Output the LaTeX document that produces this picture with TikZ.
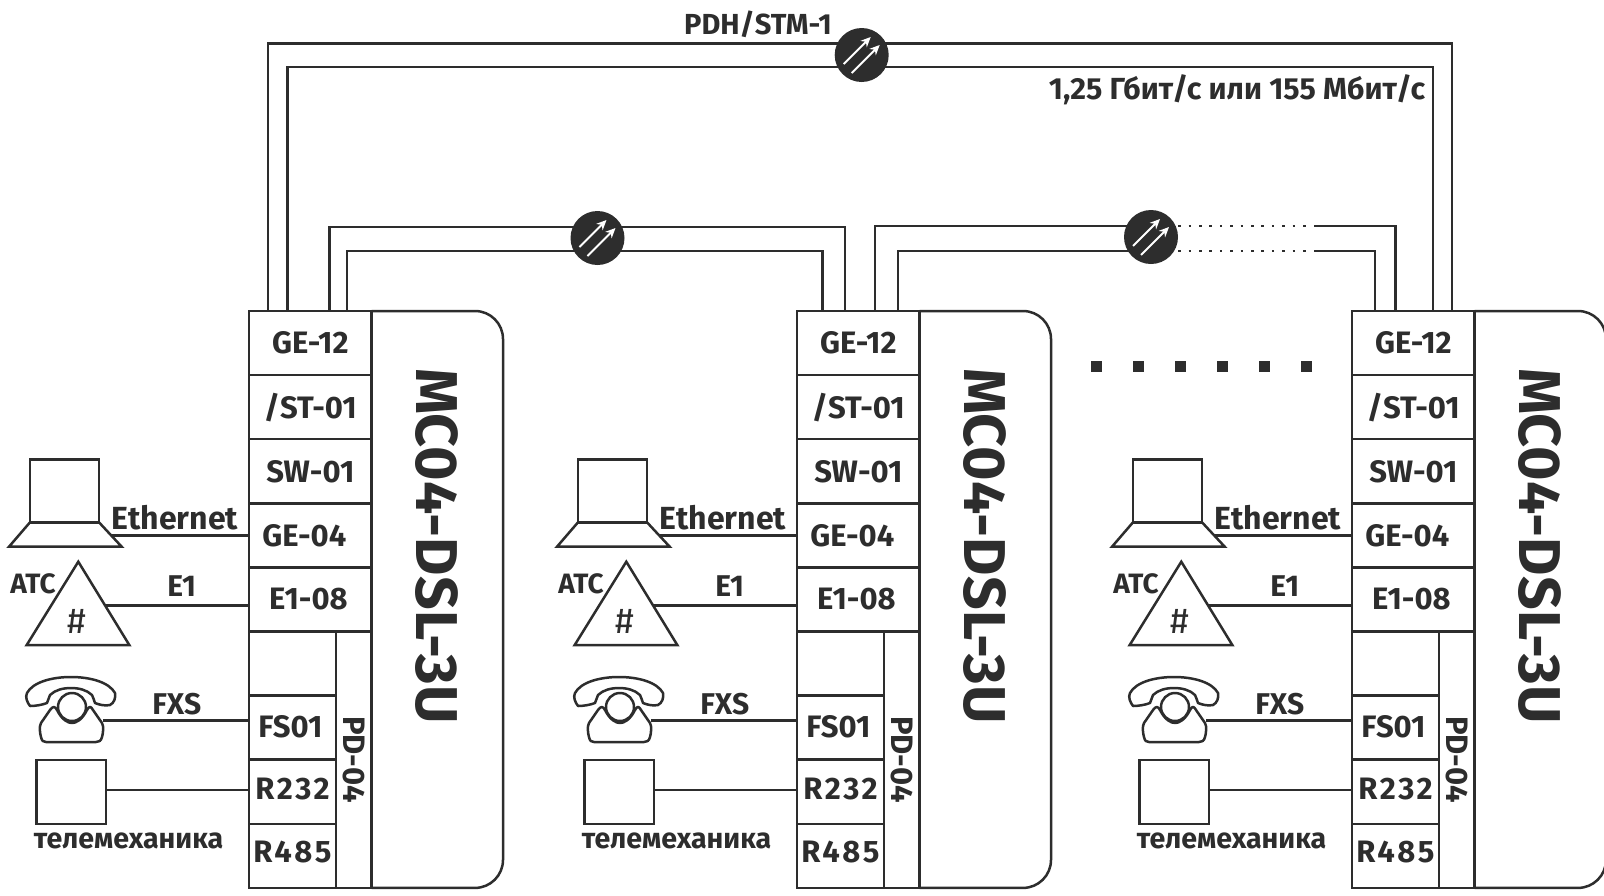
\documentclass[tikz,border=0pt]{standalone}
\usepackage{fontspec}
\setmainfont{Fira Sans}
\usepackage{xcolor}
\usetikzlibrary{
  arrows.meta,
  positioning,
  backgrounds,
  calc
}
\definecolor{inkDark}{HTML}{2D2D2D}

\begin{document}
\begin{tikzpicture}[
		x=1pt, y=-1pt,
		%--- Node Styles ---------------------------------------------------
		cellbox/.style={
			rectangle,
			draw=inkDark,
			line width=2.5pt,
			inner sep=0pt,
			outer sep=0pt,
			minimum width=122.7pt,
			minimum height=64.1pt,
			align=center,
			text=inkDark,
			font=\bfseries\fontsize{31}{36}\selectfont
		},
		narrowbox/.style={
			cellbox,
			minimum width=87pt,
			anchor=north west
		},
		devbox/.style={
			rectangle,
			draw=inkDark,
			line width=2.5pt,
			inner sep=0pt,
			outer sep=0pt
		},
		devlabel/.style={
			inner sep=0pt,
			text=inkDark,
			font=\bfseries\fontsize{30}{36}\selectfont
		},
		hub/.style={
			circle,
			fill=inkDark,
			inner sep=0pt,
			minimum size=54pt
		},
		dotmark/.style={
			rectangle,
			fill=inkDark,
			inner sep=0pt,
			minimum size=11pt
		},
		%--- Arrow Styles --------------------------------------------------
		wire/.style={
			line width=2.5pt,
			draw=inkDark
		},
		dottedwire/.style={
			line width=2.5pt,
			draw=inkDark,
			dash pattern=on 2.5pt off 7.9pt
		},
		hubarrow/.style={
			-{Stealth[length=10pt,width=9pt]},
			line width=2pt,
			draw=white
		}
		]
		
		\useasboundingbox (0,0) rectangle (1604,895);
		
		%--- Shelves and Attached Devices --------------------------------------
		
		\foreach \blk/\dx in {a/0, b/548, c/1103} {
			\begin{scope}[shift={(\dx,0)}]
				
				%--- Module Column ---------------------------------------------
				
				\node[cellbox, anchor=north west] (\blk-ge) at (249,311) {GE-12};
				\node[cellbox, below=0pt of \blk-ge] (\blk-st) {\raisebox{2pt}{/ST-01}};
				\node[cellbox, below=0pt of \blk-st] (\blk-sw) {SW-01};
				\node[cellbox, below=0pt of \blk-sw] (\blk-eth) {GE-04\kern12pt};
				\node[cellbox, below=0pt of \blk-eth] (\blk-eone) {E1-08\kern4pt};
				
				\node[narrowbox] (\blk-free) at (\blk-eone.south west) {};
				\node[narrowbox] (\blk-fs) at (\blk-free.south west) {\raisebox{2pt}{FS01}\kern4pt};
				\node[narrowbox] (\blk-rs) at (\blk-fs.south west)
				{\raisebox{7pt}{\addfontfeature{LetterSpace=8}R232}};
				\node[narrowbox] (\blk-rsb) at (\blk-rs.south west)
				{\raisebox{8pt}{\addfontfeature{LetterSpace=8}R485}};
				
				\node[cellbox, rotate=-90, anchor=south west,
				minimum width=256.4pt, minimum height=35.7pt] (\blk-pd)
				at (\blk-free.north east) {PD-04};
				
				%--- Shelf Outline ---------------------------------------------
				
				\coordinate (\blk-tr) at (503,311);
				\coordinate (\blk-br) at (503,887.9);
				\draw[wire, rounded corners=28pt]
				(\blk-ge.north east) -- (\blk-tr) -- (\blk-br) -- (\blk-pd.north east);
				
				\node[rotate=-90, inner sep=0pt, text=inkDark,
				font=\bfseries\fontsize{59}{66}\selectfont] (\blk-mc)
				at (437,546) {MC04-DSL-3U};
				
				%--- Computer --------------------------------------------------
				
				\node[devbox, minimum width=69pt, minimum height=63pt] (\blk-screen)
				at (64.5,491) {};
				\draw[wire] (9,546.7) -- (30,522.3) -- (99,522.3) -- (121.7,546.7) -- cycle;
				\coordinate (\blk-base) at (110.5,535.7);
				\node[devlabel, font=\bfseries\fontsize{32}{36}\selectfont] (\blk-ethlbl)
				at (175,518) {Ethernet};
				
				%--- Exchange --------------------------------------------------
				
				\draw[wire, line join=miter] (26.7,645) -- (78.3,561.7) -- (129.3,645) -- cycle;
				\coordinate (\blk-pbx) at (105.4,605.7);
				\node[devlabel, font=\fontsize{36}{40}\selectfont] (\blk-hash)
				at (77,621.5) {\#};
				\node[devlabel, font=\bfseries\fontsize{28}{36}\selectfont] (\blk-pbxlbl)
				at (33,584) {АТС};
				\node[devlabel] (\blk-eonelbl) at (181.7,586) {E1};
				
				%--- Telephone -------------------------------------------------
				
				\draw[wire, line join=round]
				(30,706) .. controls (27,702) and (25,697) .. (27,693)
				.. controls (33,682) and (52,677) .. (71,677)
				.. controls (90,677) and (109,682) .. (115,693)
				.. controls (116,698) and (114,703) .. (110,705)
				.. controls (105,706) and (100,705) .. (95,703)
				.. controls (93,700) and (94,697) .. (92,695)
				.. controls (87,690) and (79,688) .. (71,688)
				.. controls (63,688) and (55,690) .. (50,695)
				.. controls (48,698) and (49,700) .. (47,703)
				.. controls (42,705) and (35,706) .. (30,706) -- cycle;
				\coordinate (\blk-dial) at (72,707);
				\draw[wire] (\blk-dial) circle[radius=14];
				\draw[wire, line join=round]
				(50,710) .. controls (53,706) and (55,706) .. (57,710)
				.. controls (62,720) and (68,723) .. (72,723)
				.. controls (76,723) and (82,720) .. (87,710)
				.. controls (89,706) and (91,706) .. (93,710)
				-- (102,723)
				.. controls (104,726) and (103,734) .. (102,737)
				.. controls (101,741) and (99,742) .. (96,742)
				-- (46,742)
				.. controls (43,742) and (42,741) .. (41,737)
				.. controls (40,734) and (39,726) .. (41,723)
				-- cycle;
				\coordinate (\blk-phone) at (103,720.7);
				\node[devlabel] (\blk-fxslbl) at (176.7,704) {FXS};
				
				%--- Telemechanics ---------------------------------------------
				
				\node[devbox, minimum width=69.3pt, minimum height=64pt] (\blk-tele)
				at (71.3,792) {};
				\node[devlabel, font=\bfseries\fontsize{28.6}{36}\selectfont] (\blk-telelbl)
				at (128.5,841) {телемеханика};
				
				%--- Device Links ----------------------------------------------
				
				\draw[wire] (\blk-base) -- (\blk-base -| \blk-eth.west);
				\draw[wire] (\blk-pbx) -- (\blk-pbx -| \blk-eone.west);
				\draw[wire] (\blk-phone) -- (\blk-phone -| \blk-fs.west);
				\draw[wire] ([yshift=2pt]\blk-tele.east) -- ([yshift=2pt]\blk-tele.east -| \blk-rs.west);
				
			\end{scope}
		}
		
		%--- Optical Hubs ------------------------------------------------------
		
		\node[hub] (stm) at (861.7,55) {};
		\node[hub] (hubA) at (597.5,238) {};
		\node[hub] (hubB) at (1151,237) {};
		
		\foreach \hb in {stm, hubA, hubB} {
			\draw[hubarrow] ([shift={(-18,9)}]\hb.center) -- ([shift={(9,-18)}]\hb.center);
			\draw[hubarrow] ([shift={(-10,18)}]\hb.center) -- ([shift={(18,-10)}]\hb.center);
		}
		
		%--- Ring Lines --------------------------------------------------------
		
		\coordinate (tailUp) at (1314,226);
		\coordinate (tailDn) at (1314,251);
		
		\begin{scope}[on background layer]
			\draw[wire] ([xshift=19pt]a-ge.north west) |- ([yshift=11.5pt]stm.center)
			-| ([xshift=100pt]c-ge.north west);
			\draw[wire] ([xshift=38.5pt]a-ge.north west) |- ([yshift=-12pt]stm.center)
			-| ([xshift=81pt]c-ge.north west);
			
			\draw[wire] ([xshift=80.5pt]a-ge.north west) |- ([yshift=11pt]hubA.center)
			-| ([xshift=48pt]b-ge.north west);
			\draw[wire] ([xshift=98pt]a-ge.north west) |- ([yshift=-13pt]hubA.center)
			-| ([xshift=25.5pt]b-ge.north west);
			
			\draw[wire] ([xshift=78pt]b-ge.north west) |- ([yshift=11pt]hubB.center);
			\draw[wire] ([xshift=101pt]b-ge.north west) |- ([yshift=-14pt]hubB.center);
			
			\draw[dottedwire] ([yshift=11pt]hubB.east) -- ([xshift=-6pt]tailUp);
			\draw[dottedwire] ([yshift=-14pt]hubB.east) -- ([xshift=-6pt]tailDn);
			
			\draw[wire] (tailUp) -| ([xshift=43.7pt]c-ge.north west);
			\draw[wire] (tailDn) -| ([xshift=23pt]c-ge.north west);
		\end{scope}
		
		%--- Ring Labels -------------------------------------------------------
		
		\node[devlabel, font=\bfseries\fontsize{29}{34}\selectfont] (stmlbl)
		at (758,24) {PDH/STM-1};
		\node[devlabel, font=\bfseries\fontsize{30.5}{36}\selectfont] (ratelbl)
		at (1237,90) {1,25 Гбит/с или 155 Мбит/с};
		
		%--- Continuation Marks ------------------------------------------------
		
		\foreach \i in {0,...,5} {
			\node[dotmark] (mark\i) at (1096.7+42*\i,366.7) {};
		}
		
	\end{tikzpicture}
\end{document}
